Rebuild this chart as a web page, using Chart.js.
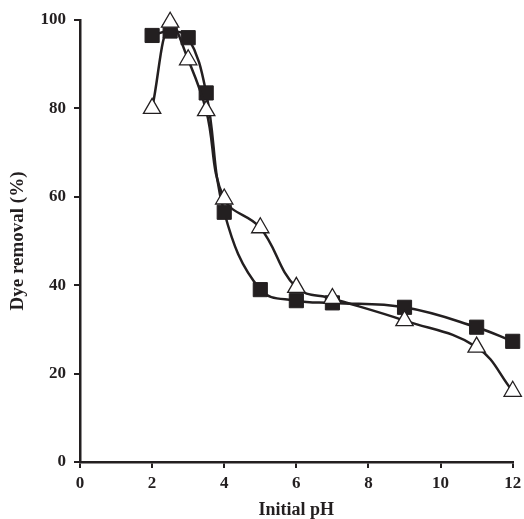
<!DOCTYPE html>
<html><head><meta charset="utf-8">
<script src="https://cdn.jsdelivr.net/npm/chart.js@4/dist/chart.umd.min.js"></script>
<style>html,body{margin:0;padding:0;background:#fff}#wrap{width:524px;height:519px}</style>
</head><body><div id="wrap"><canvas id="c" width="524" height="519"></canvas></div>
<script>
const phValues = [2, 2.5, 3, 3.5, 4, 5, 6, 7, 9, 11, 12];
const seriesSquares = [96.5, 97.5, 96, 83.5, 56.5, 39, 36.5, 36, 35, 30.5, 27.3];
const seriesTriangles = [80, 99.5, 91, 79.5, 59.5, 53, 39.5, 37, 32, 26, 16];
const xTicks = [0, 2, 4, 6, 8, 10, 12];
const yTicks = [0, 20, 40, 60, 80, 100];
const xTitle = 'Initial pH';
const yTitle = 'Dye removal (%)';

const toPts = (xs, ys) => xs.map((x, i) => ({x, y: ys[i]}));
const font = {family: '"Liberation Serif", "Times New Roman", serif', weight: 'bold', size: 17};
const tfont = {family: '"Liberation Serif", "Times New Roman", serif', weight: 'bold', size: 18, lineHeight: 1};
const yfont = {...tfont, size: 19};

new Chart(document.getElementById('c'), {
  type: 'scatter',
  data: {datasets: [
    {data: toPts(phValues, seriesSquares), showLine: true, tension: 0.4, borderColor: '#231f20', borderWidth: 2.5, clip: false,
     pointStyle: 'rect', pointRadius: 10, pointBackgroundColor: '#231f20', pointBorderColor: '#231f20', pointBorderWidth: 1, order: 1},
    {data: toPts(phValues, seriesTriangles), showLine: true, tension: 0.4, borderColor: '#231f20', borderWidth: 2.5, clip: false,
     pointStyle: 'triangle', pointRadius: 10, pointBackgroundColor: '#fff', pointBorderColor: '#231f20', pointBorderWidth: 1.3, order: 0}
  ]},
  options: {
    responsive: false, animation: false, events: [],
    layout: {padding: {top: 20, right: 10, left: 0, bottom: 0}},
    plugins: {legend: {display: false}, tooltip: {enabled: false}},
    scales: {
      x: {type: 'linear', min: 0, max: 12,
        afterBuildTicks: s => { s.ticks = xTicks.map(v => ({value: v})); },
        afterFit: s => { s.height = 57; s.paddingLeft = 0; s.paddingRight = 0; },
        grid: {drawOnChartArea: false, tickLength: 6, color: '#231f20', lineWidth: 2},
        border: {color: '#231f20', width: 2.5},
        ticks: {color: '#231f20', font, padding: 5},
        title: {display: true, text: xTitle, color: '#231f20', font: tfont, padding: {top: 0, bottom: 0}}},
      y: {min: 0, max: 100,
        afterBuildTicks: s => { s.ticks = yTicks.map(v => ({value: v})); },
        afterFit: s => { s.width = 80; s.paddingTop = 0; s.paddingBottom = 0; },
        grid: {drawOnChartArea: false, tickLength: 6, color: '#231f20', lineWidth: 2},
        border: {color: '#231f20', width: 2.5},
        ticks: {color: '#231f20', font, padding: 8},
        title: {display: true, text: yTitle, color: '#231f20', font: yfont, padding: {top: 9, bottom: 0}}}
    }
  }
});
</script></body></html>
